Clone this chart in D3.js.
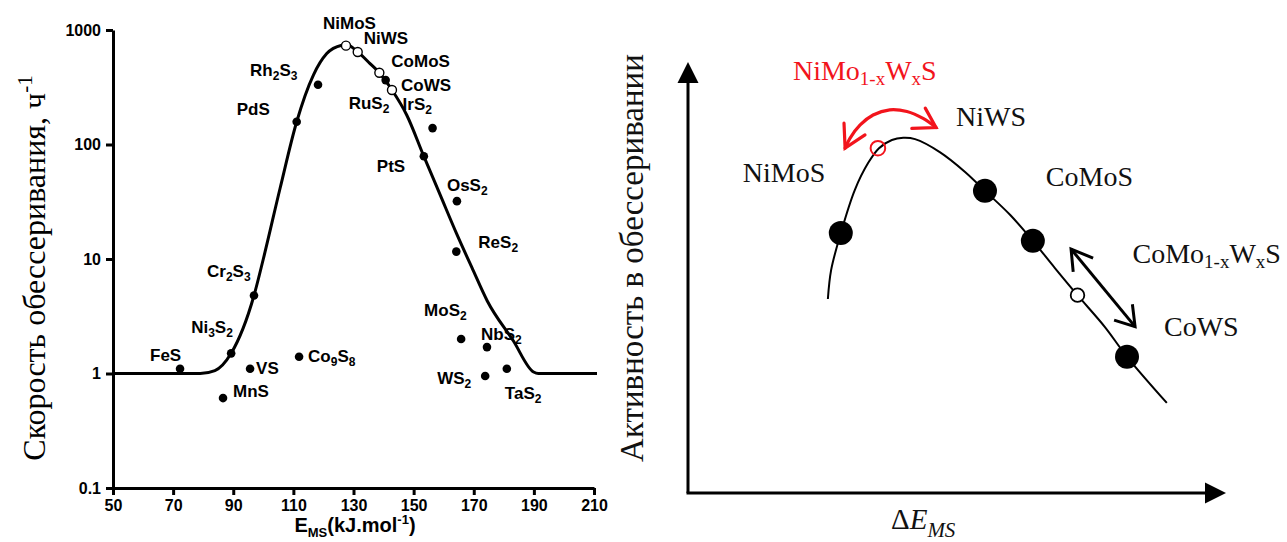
<!DOCTYPE html>
<html><head><meta charset="utf-8">
<script src="https://cdn.jsdelivr.net/npm/d3@7"></script>
<style>body{margin:0;background:#fff}</style>
</head><body>
<svg id="c" width="1287" height="542"></svg>
<script>
// ===== Left panel data =====
const curveE    = [50, 79, 83.9, 89.3, 96.9, 100, 105.6, 111.1, 116.7, 121.1, 126.1, 127.8, 131.4, 135.5, 138.6, 142.8, 147.7, 153.3, 158.8, 164.4, 169.4, 174.5, 183.1, 189.9, 191.5, 211];
const curveRate = [1, 1, 1.06, 1.5, 4.8, 10, 41.7, 158, 406, 622, 736, 745, 644, 509, 423, 299, 181, 80, 36.5, 16.4, 8.4, 4.3, 1.94, 1.03, 1, 1];

const solidNames = ["FeS","Ni_{3}S_{2}","Cr_{2}S_{3}","VS","MnS","Co_{9}S_{8}","PdS","Rh_{2}S_{3}","RuS_{2}","IrS_{2}","PtS","OsS_{2}","ReS_{2}","MoS_{2}","NbS_{2}","WS_{2}","TaS_{2}"];
const solidE     = [72.3, 89.3, 96.9, 95.6, 86.6, 111.9, 111.1, 118.2, 140.7, 156.3, 153.4, 164.4, 164.2, 165.8, 174.4, 173.8, 181];
const solidRate  = [1.1, 1.5, 4.8, 1.1, 0.61, 1.4, 158, 333, 365, 139, 79, 32, 11.6, 2.0, 1.7, 0.95, 1.1];

const openNames = ["NiMoS","NiWS","CoMoS","CoWS"];
const openE     = [127.5, 131.4, 138.6, 142.8];
const openRate  = [730, 643, 423, 299];

const xTicks = [50,70,90,110,130,150,170,190,210];
const yTicks = [0.1,1,10,100,1000];
const yTickLabels = ["0.1","1","10","100","1000"];

// ===== Right panel data (schematic units) =====
const rCurveX = [26.0,26.6,28.4,31.0,33.5,35.5,37.9,40.0,42.2,46.8,51.5,55.2,59.9,64.1,68.2,72.4,77.5,81.6,89.0];
const rCurveY = [45.0,51.7,60.3,70.3,76.6,80.0,81.9,82.4,82.1,79.1,74.5,70.1,64.5,58.5,52.2,45.9,38.5,31.6,20.9];
const rDotNames = ["NiMoS","NiWS","CoMoS","CoWS"];
const rDotX = [28.4, 55.2, 64.1, 81.6];
const rDotY = [60.3, 70.1, 58.5, 31.6];
const rOpenX = [72.4], rOpenY = [45.9], rOpenName = ["CoMo_{1-x}W_{x}S"];
const rRedX = [35.3], rRedY = [80.0], rRedName = ["NiMo_{1-x}W_{x}S"];
const redArcX = [29.2,30.1,32.0,34.4,37.5,40.7,43.7,46.1];
const redArcY = [80.0,82.3,85.4,87.7,88.9,88.5,86.9,84.8];
const redHeadL = {x:[29.0,29.2,32.9], y:[85.8,80.0,83.1]};
const redHeadR = {x:[44.1,46.1,41.6], y:[89.3,84.8,84.6]};
const dblArrowX = [71.2, 83.1], dblArrowY = [56.6, 38.6];
const dblHead1 = {x:[75.3,71.2,71.6], y:[54.5,56.6,51.3]};
const dblHead2 = {x:[79.2,83.1,82.6], y:[40.1,38.6,43.8]};

// ===== Layout (label offsets in px) =====
const solidOff = [[-30,-8],[-40,-20],[-47,-18],[6,5],[10,-1],[9,5],[-60,-7],[-68,-9],[-37,29],[-30,-18],[-47,16],[-10,-10],[22,-4],[-37,-23],[-6,-7],[-48,8],[-2,30]];
const openOff  = [[-23,-17],[6,-8],[12,-6],[9,1]];
const rDotOff  = [[-98,-51],[-29,-65],[13,-55],[37,-21]];

const SANS = "'Liberation Sans', Arial, sans-serif";
const SERIF = "'Liberation Serif', 'Times New Roman', serif";
const RED = "#f2141c";

const svg = d3.select("#c");
svg.append("rect").attr("width",1287).attr("height",542).attr("fill","#fff");

function rich(sel, str, size, subSize, subShift, supShift){
  const parts = str.match(/_\{[^}]*\}|\^\{[^}]*\}|[^_^]+/g);
  let cur = 0;
  parts.forEach(p=>{
    let shift=0, txt=p, fs=size;
    if(p.startsWith("_{")){shift=subShift; txt=p.slice(2,-1); fs=subSize;}
    else if(p.startsWith("^{")){shift=-supShift; txt=p.slice(2,-1); fs=subSize;}
    sel.append("tspan").attr("dy", shift-cur).attr("font-size",fs).text(txt);
    cur = shift;
  });
}

// ===== Left panel =====
const x = d3.scaleLinear().domain([50,210]).range([113,594]);
const y = d3.scaleLog().domain([0.1,1000]).range([488,30]);
const L = svg.append("g");

const xAxis = L.append("g").attr("transform","translate(0,488)")
  .call(d3.axisBottom(x).tickValues(xTicks).tickSize(7).tickSizeOuter(0).tickPadding(5));
const yAxis = L.append("g").attr("transform","translate(113,0)")
  .call(d3.axisLeft(y).tickValues(yTicks).tickFormat((d,i)=>yTickLabels[i]).tickSize(7).tickSizeOuter(0).tickPadding(5));
[xAxis,yAxis].forEach(a=>{
  a.select(".domain").attr("stroke","#000").attr("stroke-width",3);
  a.selectAll(".tick line").attr("stroke","#000").attr("stroke-width",3);
  a.selectAll(".tick text").attr("fill","#000").attr("font-family",SANS).attr("font-weight","bold").attr("font-size",16);
});

const curveData = curveE.map((e,i)=>({e, r:curveRate[i]}));
L.append("path").datum(curveData)
  .attr("d", d3.line().x(d=>x(d.e)).y(d=>y(d.r)).curve(d3.curveMonotoneX))
  .attr("fill","none").attr("stroke","#000").attr("stroke-width",3);

const solid = solidNames.map((n,i)=>({n, e:solidE[i], r:solidRate[i], off:solidOff[i]}));
const open = openNames.map((n,i)=>({n, e:openE[i], r:openRate[i], off:openOff[i]}));

L.selectAll("circle.s").data(solid).join("circle").attr("class","s")
  .attr("cx",d=>x(d.e)).attr("cy",d=>y(d.r)).attr("r",4.3).attr("fill","#000");
L.selectAll("circle.o").data(open).join("circle").attr("class","o")
  .attr("cx",d=>x(d.e)).attr("cy",d=>y(d.r)).attr("r",4.5).attr("fill","#fff").attr("stroke","#000").attr("stroke-width",1.4);

[...solid, ...open].forEach(d=>{
  const t = L.append("text").attr("x", x(d.e)+d.off[0]).attr("y", y(d.r)+d.off[1])
    .attr("font-family",SANS).attr("font-weight","bold").attr("fill","#000");
  rich(t, d.n, 17, 12, 4, 7);
});

const xt = L.append("text").attr("x",355).attr("y",532).attr("text-anchor","middle")
  .attr("font-family",SANS).attr("font-weight","bold").attr("fill","#000");
rich(xt, "E_{MS}(kJ.mol^{-1})", 20, 13, 5, 8);

const yt = L.append("text").attr("transform","translate(45,268) rotate(-90)").attr("text-anchor","middle")
  .attr("font-family",SERIF).attr("fill","#000");
rich(yt, "Скорость обессеривания, ч^{-1}", 32, 21, 6, 13);

// ===== Right panel =====
const xR = d3.scaleLinear().domain([0,100]).range([688,1226]);
const yR = d3.scaleLinear().domain([0,100]).range([493,62]);
const R = svg.append("g");

// axes with arrowheads
R.append("line").attr("x1",xR(0)).attr("y1",yR(0)).attr("x2",xR(0)).attr("y2",yR(100)+18)
  .attr("stroke","#000").attr("stroke-width",3);
R.append("path").attr("d",`M${xR(0)},${yR(100)} L${xR(0)-10.5},${yR(100)+21} L${xR(0)+10.5},${yR(100)+21} Z`).attr("fill","#000");
R.append("line").attr("x1",xR(0)-1.5).attr("y1",yR(0)).attr("x2",xR(100)-18).attr("y2",yR(0))
  .attr("stroke","#000").attr("stroke-width",3);
R.append("path").attr("d",`M${xR(100)},${yR(0)} L${xR(100)-21},${yR(0)-10.5} L${xR(100)-21},${yR(0)+10.5} Z`).attr("fill","#000");

const lineR = d3.line().x(d=>xR(d[0])).y(d=>yR(d[1]));
R.append("path").datum(rCurveX.map((v,i)=>[v,rCurveY[i]]))
  .attr("d", lineR.curve(d3.curveCatmullRom)).attr("fill","none").attr("stroke","#000").attr("stroke-width",2);

// red arc arrow
const lineS = d3.line().x(d=>xR(d[0])).y(d=>yR(d[1]));
R.append("path").datum(redArcX.map((v,i)=>[v,redArcY[i]]))
  .attr("d", d3.line().x(d=>xR(d[0])).y(d=>yR(d[1])).curve(d3.curveCatmullRom))
  .attr("fill","none").attr("stroke",RED).attr("stroke-width",3.2).attr("stroke-linecap","round");
[redHeadL, redHeadR].forEach(h=>{
  R.append("path").datum(h.x.map((v,i)=>[v,h.y[i]])).attr("d", lineS)
    .attr("fill","none").attr("stroke",RED).attr("stroke-width",3.2).attr("stroke-linecap","round").attr("stroke-linejoin","miter");
});

// black double arrow
R.append("path").datum(dblArrowX.map((v,i)=>[v,dblArrowY[i]])).attr("d", lineS)
  .attr("fill","none").attr("stroke","#000").attr("stroke-width",3);
[dblHead1, dblHead2].forEach(h=>{
  R.append("path").datum(h.x.map((v,i)=>[v,h.y[i]])).attr("d", lineS)
    .attr("fill","none").attr("stroke","#000").attr("stroke-width",3).attr("stroke-linejoin","miter");
});

// dots
const rDots = rDotNames.map((n,i)=>({n, x:rDotX[i], y:rDotY[i], off:rDotOff[i]}));
R.selectAll("circle.d").data(rDots).join("circle").attr("class","d")
  .attr("cx",d=>xR(d.x)).attr("cy",d=>yR(d.y)).attr("r",12).attr("fill","#000");
R.append("circle").attr("cx",xR(rOpenX[0])).attr("cy",yR(rOpenY[0])).attr("r",6.8)
  .attr("fill","#fff").attr("stroke","#000").attr("stroke-width",1.8);
R.append("circle").attr("cx",xR(rRedX[0])).attr("cy",yR(rRedY[0])).attr("r",7.3)
  .attr("fill","none").attr("stroke",RED).attr("stroke-width",2);

rDots.forEach(d=>{
  R.append("text").attr("x",xR(d.x)+d.off[0]).attr("y",yR(d.y)+d.off[1])
    .attr("font-family",SERIF).attr("font-size",28).attr("fill","#111").text(d.n);
});
const ot = R.append("text").attr("x",xR(rOpenX[0])+55).attr("y",yR(rOpenY[0])-32)
  .attr("font-family",SERIF).attr("fill","#111");
rich(ot, rOpenName[0], 28, 19, 5, 8);
const rt = R.append("text").attr("x",xR(rRedX[0])-85).attr("y",yR(rRedY[0])-68)
  .attr("font-family",SERIF).attr("fill",RED);
rich(rt, rRedName[0], 28, 19, 5, 8);

// axis titles
const dx = R.append("text").attr("x",891).attr("y",529).attr("font-family",SERIF).attr("fill","#111");
dx.append("tspan").attr("font-size",29).text("Δ");
dx.append("tspan").attr("font-size",29).attr("font-style","italic").text("E");
dx.append("tspan").attr("font-size",21).attr("font-style","italic").attr("dy",8).text("MS");

R.append("text").attr("transform","translate(643,258) rotate(-90)").attr("text-anchor","middle")
  .attr("font-family",SERIF).attr("font-size",33).attr("fill","#111").text("Активность в обессеривании");
</script>
</body></html>
